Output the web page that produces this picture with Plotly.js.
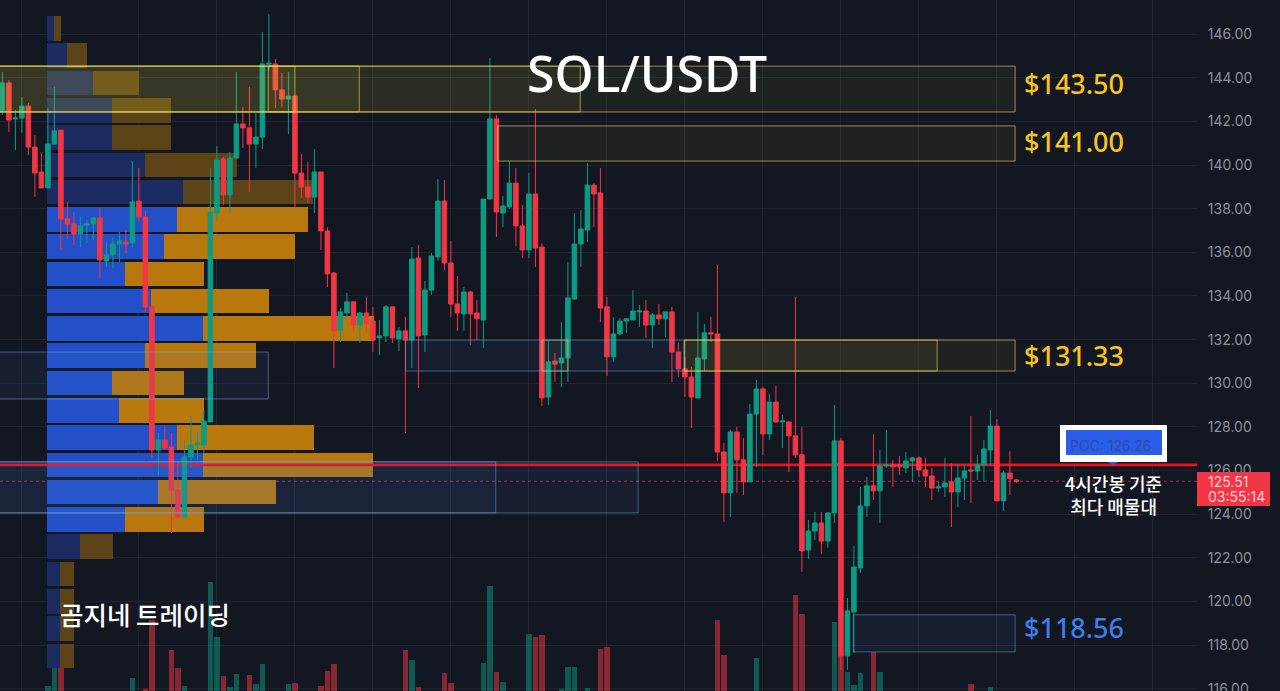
<!DOCTYPE html>
<html>
<head>
<meta charset="utf-8">
<script src="https://cdn.plot.ly/plotly-3.0.1.min.js"></script>
<style>
  html, body { margin: 0; padding: 0; background: #131722; }
  #chart { width: 1280px; height: 691px; }
</style>
</head>
<body>
<div id="chart"></div>
<script>
// 4h candles
const open = [
  142.47,143.76,142.11,142.15,142.70,140.82,139.68,138.95,140.96,141.60,
  137.53,137.30,136.84,137.25,137.30,137.57,135.60,135.88,136.38,136.47,
  136.43,138.35,137.62,133.50,126.94,127.40,127.08,125.11,123.88,126.62,
  127.17,127.17,128.23,137.80,140.28,138.63,140.32,141.88,141.70,140.96,
  141.28,144.62,144.63,143.44,143.02,143.16,139.63,138.99,138.53,139.68,
  136.98,135.05,132.44,133.22,133.73,132.67,133.22,132.85,132.08,132.17,
  133.50,132.03,132.40,131.98,135.74,132.21,134.27,135.79,138.35,135.51,
  133.63,133.18,134.18,133.22,132.90,138.44,142.11,137.80,138.08,139.17,
  137.21,136.11,138.67,136.24,129.37,131.02,130.93,131.16,133.86,136.38,
  137.02,139.08,138.72,133.50,131.21,132.26,132.85,132.90,133.27,133.31,
  132.67,133.13,132.95,133.27,131.43,130.66,130.29,129.33,131.11,132.31,
  132.26,126.85,124.98,127.77,126.49,125.48,128.59,129.74,127.68,129.14,
  128.23,128.23,127.59,126.72,122.36,123.23,123.60,122.77,124.06,127.36,
  117.51,119.52,121.54,124.38,125.30,125.07,126.21,126.26,126.26,126.12,
  126.44,126.58,126.03,125.75,125.20,125.25,125.48,125.02,125.66,126.03,
  125.98,126.26,126.94,128.04,124.61,125.89,125.57
];
const close = [
  143.76,142.06,142.15,142.70,140.82,139.63,138.95,140.96,141.56,137.53,
  137.30,136.84,137.21,137.30,137.57,135.65,135.88,136.38,136.52,136.38,
  138.31,137.62,133.50,126.94,127.40,127.03,125.11,123.88,126.62,127.17,
  127.27,128.27,137.85,140.23,138.63,140.32,141.88,141.70,140.96,141.28,
  144.63,144.66,143.44,143.02,143.16,139.63,138.99,138.53,139.68,136.98,
  135.01,132.40,133.27,133.73,132.67,133.22,132.76,131.98,132.17,133.50,
  132.08,132.40,131.98,135.69,132.17,134.27,135.83,138.35,135.51,133.63,
  133.22,134.18,133.18,132.95,138.44,142.11,137.85,138.12,139.17,137.21,
  136.11,138.67,136.20,129.33,130.98,130.88,131.16,133.91,136.38,137.07,
  139.08,138.67,133.45,131.21,132.26,132.85,132.95,133.31,133.31,132.67,
  133.13,132.95,133.27,131.43,130.66,130.29,129.37,131.16,132.31,132.26,
  126.85,124.98,127.77,126.49,125.48,128.59,129.74,127.68,129.14,128.23,
  128.27,127.59,126.72,122.32,123.23,123.60,122.77,124.06,127.36,117.51,
  119.57,121.58,124.38,125.30,125.07,126.21,126.26,126.17,126.17,126.44,
  126.58,126.03,125.75,125.20,125.25,125.43,125.02,125.66,125.98,125.98,
  126.26,126.99,128.04,124.61,125.89,125.62,125.51
];
const high = [
  144.26,143.89,142.52,143.12,142.84,141.37,140.55,142.61,143.57,141.60,
  138.31,137.85,137.62,137.48,137.62,138.03,136.47,136.70,136.93,137.02,
  140.18,139.86,137.89,133.59,127.72,128.09,127.72,126.40,127.40,128.50,
  127.77,128.78,139.86,140.87,140.37,140.60,144.26,142.66,143.57,142.38,
  146.09,146.92,144.86,144.22,144.26,143.16,140.51,140.14,140.73,139.68,
  137.16,135.10,133.45,134.14,133.73,133.27,133.95,133.50,132.90,133.59,
  133.50,132.58,133.04,136.24,136.34,134.69,135.97,139.36,139.31,136.52,
  134.92,134.41,134.23,133.82,138.44,144.90,142.29,138.58,140.18,139.86,
  138.17,139.63,142.57,136.43,131.98,131.39,132.81,135.56,137.80,137.94,
  140.09,139.17,139.86,133.95,133.04,132.99,132.99,134.27,133.59,133.82,
  133.22,133.63,133.27,133.50,131.85,131.21,130.75,133.27,132.72,133.04,
  135.42,127.27,127.86,128.00,127.49,129.05,130.15,129.83,129.51,129.88,
  128.55,128.23,133.95,128.00,123.74,124.10,124.10,124.06,129.01,127.49,
  120.16,122.55,125.25,125.71,127.68,126.94,127.86,126.49,126.67,126.85,
  126.62,126.67,126.58,126.12,125.48,126.58,126.35,126.30,126.26,128.50,
  126.72,127.40,128.78,128.36,125.98,126.90,125.62
];
const low = [
  142.29,141.51,140.69,141.47,140.46,138.53,138.95,138.95,140.96,136.11,
  136.61,136.34,136.24,136.43,136.57,134.83,135.33,135.28,135.56,135.97,
  136.24,137.39,133.27,126.58,125.80,126.94,123.14,123.83,123.83,126.12,
  126.49,126.81,128.23,137.39,138.17,137.80,140.32,140.78,138.76,139.86,
  140.73,144.35,142.61,142.66,141.42,138.08,138.49,138.26,137.80,136.11,
  134.41,130.70,131.89,133.04,132.31,131.85,132.31,131.43,131.30,131.89,
  131.85,131.48,127.72,130.70,129.78,131.43,134.05,135.60,135.19,133.04,
  132.40,132.40,131.76,131.98,131.62,138.44,136.70,137.16,137.99,136.29,
  135.74,135.74,135.33,128.96,129.01,130.06,129.83,130.06,133.82,135.33,
  136.47,137.16,132.81,130.33,130.98,132.21,132.31,132.90,132.58,132.08,
  131.62,132.67,132.12,130.06,130.29,129.37,127.95,129.33,130.56,131.89,
  126.44,123.65,123.88,124.98,124.88,125.48,126.17,126.72,127.40,128.18,
  127.03,125.93,126.58,121.36,121.95,122.82,122.18,122.46,123.60,116.87,
  116.87,117.65,121.31,123.88,124.65,123.60,126.12,125.25,125.80,125.89,
  125.48,125.71,125.25,124.65,125.02,124.79,123.42,124.33,124.65,124.52,
  125.57,125.48,126.26,124.61,124.15,124.88,125.43
];
const candleIndex = open.map((_, i) => i);

// only the volume bars tall enough to show above the bottom edge
const volumeIndex = [7,8,9,20,22,23,26,27,28,32,33,34,35,36,38,39,40,44,45,49,50,51,62,63,64,68,69,74,75,76,77,81,82,83,86,87,88,90,92,93,110,111,116,122,123,128,129,130,131,132,134,135,149,152];
const volumeValue = [5,31,29,13,2,71,41,23,5,109,54,15,4,17,16,7,27,7,8,5,20,27,41,31,4,18,8,28,105,19,9,57,54,56,2,24,24,3,42,44,71,36,33,96,77,69,41,19,6,18,39,19,7,4];

// volume profile rows
const profilePrice = [146.26,145.01,143.76,142.51,141.26,140.01,138.76,137.51,136.26,135.01,133.76,132.51,131.26,130.01,128.76,127.51,126.26,125.01,123.76,122.51,121.26,120.01,118.76,117.51];
const profileBuy = [7,20,46,65,65,98,136,130,117,78,104,156,98,65,72,130,156,111,78,33,13,13,13,13];
const profileSell = [7,20,46,59,59,92,130,131,131,79,118,171,111,72,85,137,170,118,79,33,14,14,14,14];
const valueAreaLow = 123;
const valueAreaHigh = 138;

const pocPrice = 126.26;
const lastPrice = 125.51;
const priceTicks = [116,118,120,122,124,126,128,130,132,134,136,138,140,142,144,146];
const timeTicks = [3,21,33,45,57,69,81,93,105,117,129,141,153,165,177];

// zones: start/end in candle index, top/bottom in price
const yellowZones = [
  [-2, 155.8, 144.53, 142.43],
  [-2, 88.9, 144.53, 142.43],
  [-2, 54.9, 144.53, 142.43],
  [40.9, 45, 144.53, 142.43],
  [76.2, 155.8, 141.79, 140.18],
  [104.9, 155.8, 131.98, 130.56],
  [104.9, 143.8, 131.98, 130.56],
  [83, 87, 131.98, 130.56]
];
const blueZones = [
  [-2, 40.9, 131.43, 129.28],
  [62, 105, 131.98, 130.56],
  [-2, 75.9, 126.40, 124.06],
  [-2, 97.8, 126.40, 124.06],
  [130.9, 155.8, 119.39, 117.69]
];

const UP = '#0c9c83';
const DOWN = '#f23645';
const BG = '#131722';
const PLOT_W = 1197;
const PLOT_H = 691;
const KR = '"Noto Sans CJK KR", "Noto Sans", sans-serif';

const fx = px => px / PLOT_W;
const fy = py => 1 - py / PLOT_H;

const inValueArea = p => p > valueAreaLow && p < valueAreaHigh;

const volumeTrace = {
  type: 'bar',
  x: volumeIndex,
  y: volumeValue,
  width: 0.85,
  marker: {
    color: volumeIndex.map(i => close[i] >= open[i] ? 'rgba(12,156,131,0.5)' : 'rgba(242,54,69,0.52)'),
    line: { width: 0 }
  },
  xaxis: 'x',
  yaxis: 'y',
  hoverinfo: 'skip'
};

const buyTrace = {
  type: 'bar',
  orientation: 'h',
  y: profilePrice,
  x: profileBuy,
  width: 1.125,
  marker: { color: profilePrice.map(p => inValueArea(p) ? '#2350c8' : '#1c2c63'), line: { width: 0 } },
  xaxis: 'x2',
  yaxis: 'y2',
  hoverinfo: 'skip'
};

const sellTrace = {
  type: 'bar',
  orientation: 'h',
  y: profilePrice,
  x: profileSell,
  width: 1.125,
  marker: { color: profilePrice.map(p => inValueArea(p) ? '#b9780e' : '#5c4418'), line: { width: 0 } },
  xaxis: 'x2',
  yaxis: 'y2',
  hoverinfo: 'skip'
};

const profileRange = [-47, 1150];

// POC line goes in the profile layer so candles still sit on top of it
const pocTrace = {
  type: 'scatter',
  mode: 'lines',
  x: profileRange,
  y: [pocPrice, pocPrice],
  line: { color: '#f0101c', width: 2.6 },
  xaxis: 'x2',
  yaxis: 'y2',
  hoverinfo: 'skip'
};

const candleTrace = {
  type: 'candlestick',
  x: candleIndex,
  open: open,
  high: high,
  low: low,
  close: close,
  whiskerwidth: 0,
  increasing: { line: { color: UP, width: 1 }, fillcolor: UP },
  decreasing: { line: { color: DOWN, width: 1 }, fillcolor: DOWN },
  xaxis: 'x3',
  yaxis: 'y2',
  hoverinfo: 'skip'
};

const zoneShape = (z, line, fill) => ({
  type: 'rect', xref: 'x3', yref: 'y2', layer: 'above',
  x0: z[0], x1: z[1], y0: z[2], y1: z[3],
  line: { color: line, width: 1 },
  fillcolor: fill
});

const pixelRect = (x0, x1, y0, y1, color) => ({
  type: 'rect', xref: 'paper', yref: 'paper', layer: 'above',
  x0: fx(x0), x1: fx(x1), y0: fy(y0), y1: fy(y1),
  line: { width: 0 },
  fillcolor: color
});

const shapes = [
  // last price dotted line runs under the profile
  {
    type: 'line', xref: 'paper', yref: 'y2', layer: 'below',
    x0: 0, x1: 1, y0: lastPrice, y1: lastPrice,
    line: { color: 'rgba(242,54,69,0.7)', width: 1, dash: 'dot' }
  },
  ...yellowZones.map(z => zoneShape(z, 'rgba(240,220,90,0.6)', 'rgba(255,235,59,0.055)')),
  ...blueZones.map(z => zoneShape(z, 'rgba(120,170,220,0.5)', 'rgba(70,130,230,0.07)')),
  // POC callout
  pixelRect(1060, 1167, 425, 462, '#ffffff'),
  pixelRect(1066, 1162, 430, 455, '#2a5ee8'),
  {
    type: 'path', xref: 'paper', yref: 'paper', layer: 'above',
    path: `M ${fx(1108)} ${fy(462)} L ${fx(1118)} ${fy(462)} L ${fx(1113)} ${fy(465)} Z`,
    fillcolor: '#2a5ee8',
    line: { width: 0 }
  },
  // price tag on the axis
  pixelRect(1197, 1270, 472, 506, '#f23645')
];

const zoneLabel = (text, cx, cy, color) => ({
  xref: 'paper', yref: 'paper', x: fx(cx), y: fy(cy),
  xanchor: 'center', yanchor: 'middle', showarrow: false,
  text: text,
  font: { family: '"Noto Sans", sans-serif', size: 27, weight: 500, color: color }
});

const tagLabel = (text, cy) => ({
  xref: 'paper', yref: 'paper', x: fx(1206), y: fy(cy),
  xanchor: 'left', yanchor: 'middle', showarrow: false,
  text: text,
  font: { family: 'Inter, sans-serif', size: 14, color: '#ffd0d4' }
});

const annotations = [
  {
    xref: 'paper', yref: 'paper', x: fx(647), y: fy(73),
    xanchor: 'center', yanchor: 'middle', showarrow: false,
    text: 'SOL/USDT',
    font: { family: '"Noto Sans", sans-serif', size: 50, weight: 500, color: '#ffffff' }
  },
  zoneLabel('$143.50', 1074, 84, '#f7c51e'),
  zoneLabel('$141.00', 1074, 141, '#f7c51e'),
  zoneLabel('$131.33', 1074, 355, '#f7c51e'),
  zoneLabel('$118.56', 1074, 627, '#3f7de8'),
  {
    xref: 'paper', yref: 'paper', x: fx(144.5), y: fy(613),
    xanchor: 'center', yanchor: 'middle', showarrow: false,
    text: '곰지네 트레이딩',
    font: { family: KR, size: 25.5, weight: 500, color: '#ffffff' }
  },
  {
    xref: 'paper', yref: 'paper', x: fx(1113), y: fy(494),
    xanchor: 'center', yanchor: 'middle', showarrow: false,
    text: '4시간봉 기준<br>최다 매물대',
    font: { family: KR, size: 18, weight: 500, color: '#ffffff' }
  },
  {
    xref: 'paper', yref: 'paper', x: fx(1111), y: fy(445),
    xanchor: 'center', yanchor: 'middle', showarrow: false,
    text: 'POC: 126.26',
    font: { family: 'Inter, sans-serif', size: 14, color: '#2f4ba8' }
  },
  tagLabel('125.51', 481),
  tagLabel('03:55:14', 497)
];

const layout = {
  width: 1280,
  height: 691,
  margin: { l: 0, r: 83, t: 0, b: 0 },
  paper_bgcolor: BG,
  plot_bgcolor: BG,
  showlegend: false,
  hovermode: false,
  barmode: 'stack',
  boxgap: 0.3,
  boxgroupgap: 0,
  xaxis: {
    range: [-0.369, 183.78],
    tickvals: timeTicks,
    showticklabels: false,
    ticks: '',
    showgrid: true,
    gridcolor: 'rgba(255,255,255,0.06)',
    zeroline: false,
    showline: false
  },
  // volume axis, hidden; runs over the whole height so bars rise from the bottom edge
  yaxis: {
    range: [0, PLOT_H],
    visible: false,
    fixedrange: true
  },
  xaxis2: {
    overlaying: 'x',
    range: profileRange,
    visible: false
  },
  xaxis3: {
    overlaying: 'x',
    range: [-0.369, 183.78],
    visible: false,
    rangeslider: { visible: false }
  },
  yaxis2: {
    overlaying: 'y',
    side: 'right',
    anchor: 'x',
    range: [115.90, 147.56],
    tickvals: priceTicks,
    ticktext: priceTicks.map(p => p.toFixed(2)),
    ticks: 'outside',
    ticklen: 7,
    tickcolor: 'rgba(0,0,0,0)',
    ticklabeloverflow: 'allow',
    tickfont: { family: 'Inter, sans-serif', size: 14, color: '#8d919c' },
    showgrid: true,
    gridcolor: 'rgba(255,255,255,0.06)',
    zeroline: false,
    showline: false
  },
  shapes: shapes,
  annotations: annotations
};

Plotly.newPlot('chart', [volumeTrace, buyTrace, sellTrace, pocTrace, candleTrace], layout, { displayModeBar: false, staticPlot: true });
</script>
</body>
</html>
